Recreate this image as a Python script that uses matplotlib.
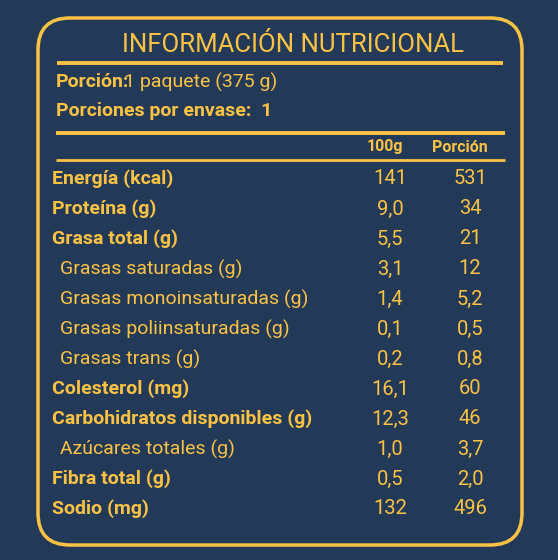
import matplotlib.pyplot as plt
from matplotlib.patches import FancyBboxPatch

BG = "#223a57"
YEL = "#fcc244"
FONT = ["Roboto", "DejaVu Sans"]

labels = ["Energía (kcal)", "Proteína (g)", "Grasa total (g)", " Grasas saturadas (g)",
          " Grasas monoinsaturadas (g)", " Grasas poliinsaturadas (g)", " Grasas trans (g)",
          "Colesterol (mg)", "Carbohidratos disponibles (g)", " Azúcares totales (g)",
          "Fibra total (g)", "Sodio (mg)"]
per100 = ["141", "9,0", "5,5", "3,1", "1,4", "0,1", "0,2", "16,1", "12,3", "1,0", "0,5", "132"]
perportion = ["531", "34", "21", "12", "5,2", "0,5", "0,8", "60", "46", "3,7", "2,0", "496"]

fig = plt.figure(figsize=(5.58, 5.60), dpi=100, facecolor=BG)
ax = fig.add_axes([0, 0, 1, 1])
ax.set_xlim(0, 558)
ax.set_ylim(560, 0)
ax.axis("off")

ax.add_patch(FancyBboxPatch((38, 18), 484, 527, boxstyle="round,pad=0,rounding_size=32",
                            fill=False, ec=YEL, lw=2.5))
ax.text(293, 45, "INFORMACIÓN NUTRICIONAL", color=YEL, fontsize=18.5, family=FONT,
        ha="center", va="center")
ax.plot([57, 503], [63, 63], color=YEL, lw=2.8, solid_capstyle="butt")
ax.text(56, 82, "Porción:", color=YEL, fontsize=14, family=FONT, weight="bold", va="center")
ax.text(124, 82, "1 paquete (375 g)", color=YEL, fontsize=14, family=FONT, va="center")
ax.text(56, 111, "Porciones por envase:  1", color=YEL, fontsize=14, family=FONT,
        weight="bold", va="center")
ax.plot([56, 505], [133, 133], color=YEL, lw=2.8, solid_capstyle="butt")
ax.text(385, 147, "100g", color=YEL, fontsize=11.5, family=FONT, weight="bold", ha="center", va="center")
ax.text(460, 147, "Porción", color=YEL, fontsize=11.5, family=FONT, weight="bold", ha="center", va="center")
ax.plot([56, 505], [160, 160], color=YEL, lw=2.0, solid_capstyle="butt")

for i, (lab, a, b) in enumerate(zip(labels, per100, perportion)):
    y = 179 + i * 30
    sub = lab.startswith(" ")
    ax.text(60 if sub else 52, y, lab.strip(), color=YEL, fontsize=14, family=FONT,
            weight="normal" if sub else "bold", va="center")
    ax.text(390, y, a, color=YEL, fontsize=14.5, family=FONT, ha="center", va="center")
    ax.text(470, y, b, color=YEL, fontsize=14.5, family=FONT, ha="center", va="center")

fig.savefig("out.png", dpi=100, facecolor=BG)
